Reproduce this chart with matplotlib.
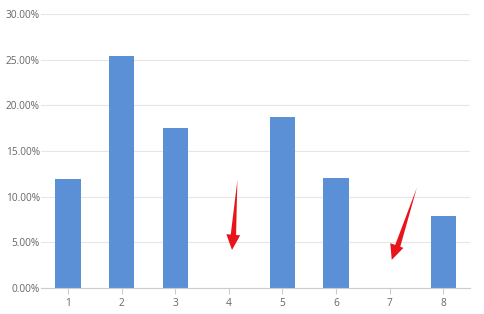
import matplotlib
matplotlib.use('Agg')
import matplotlib.pyplot as plt
from matplotlib.ticker import FuncFormatter

categories = ['1', '2', '3', '4', '5', '6', '7', '8']
rates = [11.9, 25.4, 17.5, 0, 18.7, 12.0, 0, 7.9]

plt.rcParams['font.family'] = ['Open Sans', 'DejaVu Sans']

fig = plt.figure(figsize=(4.85, 3.14), dpi=100)
ax = fig.add_axes([0.085, 0.083, 0.884, 0.872])

x = list(range(1, len(categories) + 1))
ax.bar(x, rates, width=0.47, color='#5b8fd6', zorder=2)

ax.set_xlim(0.5, 8.5)
ax.set_ylim(0, 30)
ax.set_yticks([0, 5, 10, 15, 20, 25, 30])
ax.yaxis.set_major_formatter(FuncFormatter(lambda v, p: '%.2f%%' % v))
ax.set_xticks(x)
ax.set_xticklabels(categories)

ax.grid(axis='y', color='#e6e6e6', linewidth=0.8, zorder=0)
for s in ['top', 'right', 'left']:
    ax.spines[s].set_visible(False)
ax.spines['bottom'].set_color('#cccccc')
ax.tick_params(axis='y', length=0, labelsize=7.3, labelcolor='#666666', pad=1)
ax.tick_params(axis='x', length=4, color='#cccccc', labelsize=7.3, labelcolor='#666666', pad=3)

# red arrows pointing at the empty categories: tapered shaft + filled head
red = '#e8141b'
shaft = dict(arrowstyle='wedge,tail_width=0.4,shrink_factor=0.5', color=red, lw=0,
             shrinkA=0, shrinkB=0)
head = dict(arrowstyle='-|>,head_length=1.1,head_width=0.5', color=red, lw=0,
            shrinkA=0, shrinkB=0)
ax.annotate('', xy=(4.16, 11.8), xytext=(4.083, 5.6), arrowprops=shaft)
ax.annotate('', xy=(4.06, 4.16), xytext=(4.083, 5.8), arrowprops=head)
ax.annotate('', xy=(7.51, 11.0), xytext=(7.14, 4.4), arrowprops=shaft)
ax.annotate('', xy=(7.04, 3.07), xytext=(7.134, 4.62), arrowprops=head)

plt.savefig('out.png', dpi=100)
